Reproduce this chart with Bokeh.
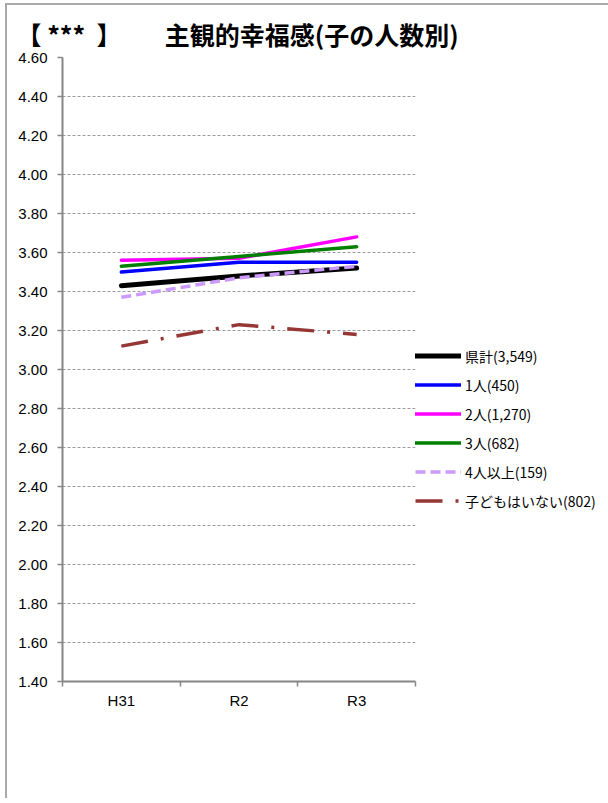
from bokeh.plotting import figure
from bokeh.models import (Range1d, FixedTicker, Legend, LegendItem, Title,
                          NumeralTickFormatter)
from bokeh.embed import file_html
from bokeh.resources import INLINE

# ---- data ----
categories = ["H31", "R2", "R3"]
series_names = ["県計(3,549)", "1人(450)", "2人(1,270)", "3人(682)", "4人以上(159)", "子どもはいない(802)"]
kenkei = [3.43, 3.48, 3.52]
one_child = [3.50, 3.55, 3.55]
two_children = [3.56, 3.57, 3.68]
three_children = [3.53, 3.58, 3.63]
four_plus = [3.37, 3.47, 3.53]
no_children = [3.12, 3.23, 3.18]
y_ticks = [1.4, 1.6, 1.8, 2.0, 2.2, 2.4, 2.6, 2.8, 3.0, 3.2, 3.4, 3.6, 3.8, 4.0, 4.2, 4.4, 4.6]
title_left = "【 ***\u00a0 】"
title_main = "主観的幸福感(子の人数別)"

all_series = [kenkei, one_child, two_children, three_children, four_plus, no_children]
styles = [
    dict(line_color="#000000", line_width=5, line_cap="round"),
    dict(line_color="#0000FF", line_width=3.5, line_cap="round"),
    dict(line_color="#FF00FF", line_width=3.5, line_cap="round"),
    dict(line_color="#008000", line_width=3.5, line_cap="round"),
    dict(line_color="#CC99FF", line_width=3.5, line_dash="10 5"),
    dict(line_color="#953735", line_width=3.5, line_dash="27 13 3 13"),
]

xs = [i + 0.5 for i in range(len(categories))]

p = figure(frame_width=353, frame_height=624, output_backend="svg", toolbar_location=None,
           x_range=Range1d(0, len(categories)), y_range=Range1d(y_ticks[0], y_ticks[-1]),
           min_border_left=55, min_border_right=192, min_border_top=52, min_border_bottom=117,
           background_fill_color="white", border_fill_color="white")
p.outline_line_color = None
p.styles = {"position": "absolute", "left": "5px", "top": "3px",
            "border-left": "2px solid #a9a9a9", "border-top": "2px solid #a9a9a9"}

# title (single line, both parts)
p.add_layout(Title(text=title_left + "　　 " + title_main, align="left", offset=-46,
                   standoff=11, vertical_align="bottom",
                   text_font="Noto Sans CJK JP", text_font_style="bold",
                   text_font_size="25px", text_color="#000000"), "above")

# axes
for ax in (p.xaxis[0], p.yaxis[0]):
    ax.axis_line_color = "#868686"
    ax.axis_line_width = 2
    ax.major_label_text_font = "Liberation Sans"
    ax.major_label_text_font_size = "15px"
    ax.major_label_text_color = "#000000"

p.yaxis.ticker = FixedTicker(ticks=y_ticks, minor_ticks=[])
p.yaxis.formatter = NumeralTickFormatter(format="0.00")
p.yaxis.major_tick_line_color = "#868686"
p.yaxis.major_tick_line_width = 1.5
p.yaxis.major_tick_out = 5
p.yaxis.major_tick_in = 0
p.yaxis.minor_tick_line_color = None
p.yaxis.major_label_standoff = 10

p.xaxis.ticker = FixedTicker(ticks=xs, minor_ticks=list(range(len(categories) + 1)))
p.xaxis.major_label_overrides = {x: c for x, c in zip(xs, categories)}
p.xaxis.major_tick_line_color = None
p.xaxis.major_tick_out = 5
p.xaxis.minor_tick_line_color = "#868686"
p.xaxis.minor_tick_line_width = 1.5
p.xaxis.minor_tick_out = 5
p.xaxis.minor_tick_in = 0
p.xaxis.major_label_standoff = 5

p.xgrid.grid_line_color = None
p.ygrid.grid_line_color = "#9a9a9a"
p.ygrid.grid_line_dash = "3 2"
p.ygrid.grid_line_width = 1

renderers = []
for ys, st in zip(all_series, styles):
    r = p.line(xs, ys, **st)
    renderers.append(r)

legend = Legend(items=[LegendItem(label=n, renderers=[r]) for n, r in zip(series_names, renderers)],
                location=(0, 170), orientation="vertical",
                glyph_width=46, glyph_height=21, label_height=21, spacing=8,
                label_standoff=4, padding=0, margin=0,
                border_line_color=None, background_fill_alpha=0,
                label_text_font="Noto Sans CJK JP", label_text_font_size="14px",
                label_text_color="#000000")
p.add_layout(legend, "right")

open("out.html", "w").write(file_html(p, INLINE))
